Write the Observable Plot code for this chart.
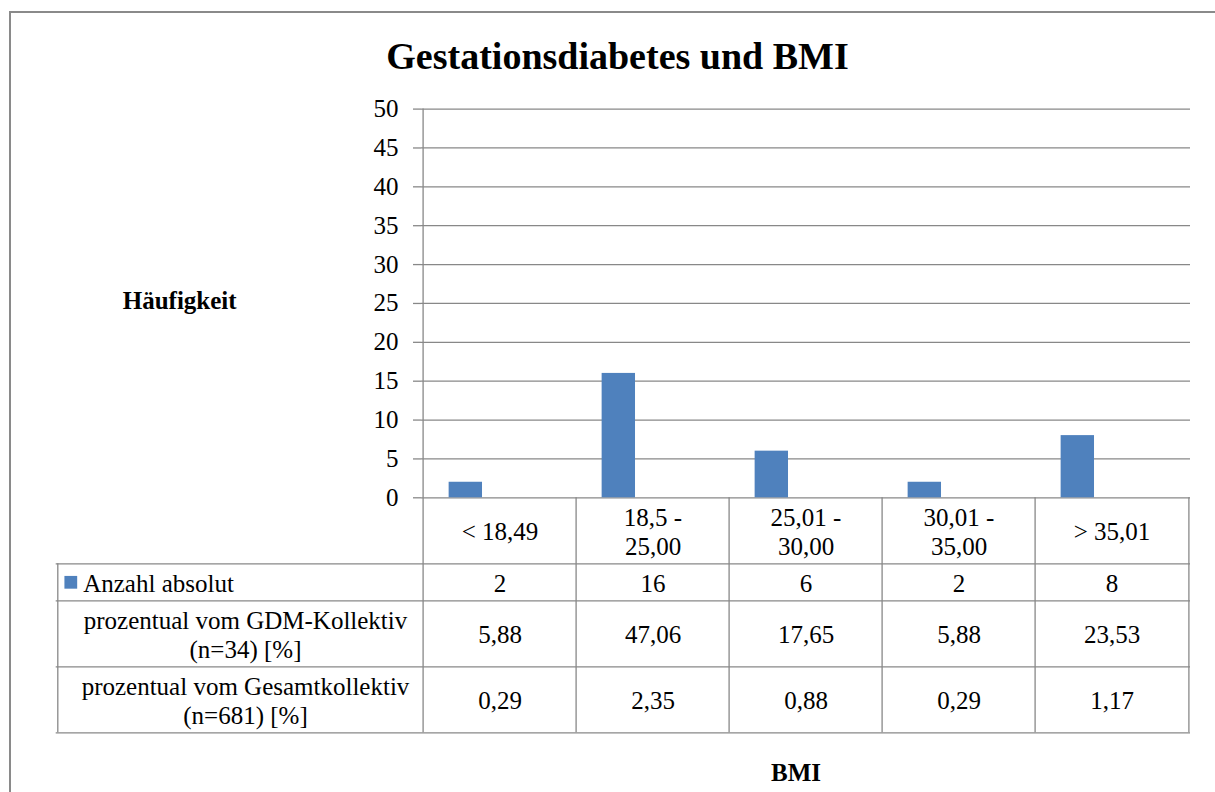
<!DOCTYPE html>
<html><head><meta charset="utf-8">
<script src="https://cdn.jsdelivr.net/npm/d3@7"></script>
<script src="https://cdn.jsdelivr.net/npm/@observablehq/plot@0.6"></script>
<style>
html,body{margin:0;padding:0;background:#fff;overflow:hidden;}
#wrap{position:relative;width:1215px;height:792px;overflow:hidden;}
#border{position:absolute;left:9px;top:11px;width:1300px;height:900px;border:2px solid #8a8a8a;box-sizing:border-box;pointer-events:none;}
#chart svg, #chart svg text, #chart svg tspan { font-family: "Liberation Serif", "Times New Roman", serif !important; font-variant: normal !important; }
</style></head><body>
<div id="wrap"><div id="chart"></div><div id="border"></div></div>
<script>
const title = "Gestationsdiabetes und BMI";
const yLabel = "Häufigkeit";
const xLabel = "BMI";
const categories = ["< 18,49", "18,5 -\n25,00", "25,01 -\n30,00", "30,01 -\n35,00", "> 35,01"];
const seriesNames = ["Anzahl absolut", "prozentual vom GDM-Kollektiv\n(n=34) [%]", "prozentual vom Gesamtkollektiv\n(n=681) [%]"];
const anzahlAbsolut = [2, 16, 6, 2, 8];
const prozentGDM = [5.88, 47.06, 17.65, 5.88, 23.53];
const prozentGesamt = [0.29, 2.35, 0.88, 0.29, 1.17];
const yTicks = [0, 5, 10, 15, 20, 25, 30, 35, 40, 45, 50];

// layout (pixels)
const W = 1215, H = 792;
const plotLeft = 421, plotRight = 1190, plotTop = 108.6, plotZero = 497.3;
const tableLeft = 55.7;
const FONT = "Liberation Serif";
const GRID = "#888888";
const BLUE = "#4F81BD";

const yScale = Plot.scale({y: {domain: [0, 50], range: [plotZero, plotTop]}});
const py = px => yScale.invert(px);
const bw = (plotRight - plotLeft) / categories.length;

// Excel clustered columns: 3 series, gap width 150%, only first series visible
const slot = 1 / (3 + 1.5);
const insetL = bw * 0.75 * slot;
const insetR = bw - insetL - bw * slot;

const fmt = v => v.toFixed(2).replace(".", ",");
const nLines = s => s.split("\n").length;
const rowH = n => 8 + 29 * n;

// row boundaries
const headerLines = d3.max(categories, nLines);
const bounds = [plotZero, plotZero + rowH(headerLines)];
seriesNames.forEach(s => bounds.push(bounds[bounds.length - 1] + rowH(nLines(s))));
const rowCenter = i => (bounds[i] + bounds[i + 1]) / 2;
const tableBottom = bounds[bounds.length - 1];

const bars = categories.map((c, i) => ({cat: c, value: anzahlAbsolut[i]}));
const rowValues = [anzahlAbsolut.map(String), prozentGDM.map(fmt), prozentGesamt.map(fmt)];
const cells = [];
categories.forEach((c, i) => cells.push({cat: c, text: c, row: 0}));
rowValues.forEach((vals, r) => vals.forEach((v, i) => cells.push({cat: categories[i], text: v, row: r + 1})));

const textOpts = {fontFamily: FONT, fontSize: 25, fill: "black", lineHeight: 1.16};

const chart = Plot.plot({
  width: W, height: H,
  marginLeft: plotLeft, marginRight: W - plotRight, marginTop: plotTop, marginBottom: H - plotZero,
  style: {fontFamily: FONT, fontSize: "25px", background: "transparent", overflow: "visible"},
  x: {type: "band", domain: categories, padding: 0, axis: null},
  y: {domain: [0, 50], axis: null},
  marks: [
    Plot.ruleY(yTicks, {stroke: GRID, strokeWidth: 1.3}),
    Plot.axisY(yTicks, {tickSize: 8, tickPadding: 15, stroke: GRID, strokeWidth: 1.3, fill: "black", fontSize: 25, fontFamily: FONT, label: null}),
    Plot.barY(bars, {x: "cat", y: "value", fill: BLUE, insetLeft: insetL, insetRight: insetR}),
    // y axis line continuing as table line
    Plot.ruleX([categories[0]], {x: d => d, dx: -bw / 2, y1: 50, y2: py(tableBottom), stroke: GRID, strokeWidth: 1.3}),
    // table column lines
    Plot.ruleX(categories.slice(1), {x: d => d, dx: -bw / 2, y1: 0, y2: py(tableBottom), stroke: GRID, strokeWidth: 1.3}),
    Plot.ruleX([categories[categories.length - 1]], {x: d => d, dx: bw / 2, y1: 0, y2: py(tableBottom), stroke: GRID, strokeWidth: 1.3}),
    Plot.ruleX([categories[0]], {x: d => d, dx: tableLeft - (plotLeft + bw / 2), y1: py(bounds[1]), y2: py(tableBottom), stroke: GRID, strokeWidth: 1.3}),
    // table row lines
    Plot.ruleY(bounds.slice(1), {y: d => py(d), insetLeft: tableLeft - plotLeft, stroke: GRID, strokeWidth: 1.3}),
    // cell texts
    Plot.text(cells, {x: "cat", y: d => py(rowCenter(d.row)), text: "text", lineAnchor: "middle", ...textOpts}),
    // row labels
    Plot.dot([seriesNames[0]], {y: () => py(rowCenter(1)), frameAnchor: "left", dx: 70.3 - plotLeft, symbol: "square", r: 7.2, fill: BLUE, stroke: "none"}),
    Plot.text([seriesNames[0]], {y: () => py(rowCenter(1)), text: d => d, frameAnchor: "left", dx: 82.7 - plotLeft, textAnchor: "start", lineAnchor: "middle", ...textOpts}),
    Plot.text(seriesNames.slice(1), {y: (d, i) => py(rowCenter(i + 2)), text: d => d, frameAnchor: "left", dx: 245 - plotLeft, textAnchor: "middle", lineAnchor: "middle", ...textOpts}),
    // titles
    Plot.text([title], {y: () => py(68), text: d => d, frameAnchor: "left", dx: 617 - plotLeft, textAnchor: "middle", lineAnchor: "bottom", fontFamily: FONT, fontSize: 38, fontWeight: "bold", fill: "black"}),
    Plot.text([yLabel], {y: () => py(308), text: d => d, frameAnchor: "left", dx: 179.2 - plotLeft, textAnchor: "middle", lineAnchor: "bottom", fontFamily: FONT, fontSize: 25, fontWeight: "bold", fill: "black"}),
    Plot.text([xLabel], {y: () => py(780), text: d => d, frameAnchor: "left", dx: 795.5 - plotLeft, textAnchor: "middle", lineAnchor: "bottom", fontFamily: FONT, fontSize: 25, fontWeight: "bold", fill: "black"})
  ]
});
document.getElementById("chart").appendChild(chart);
</script>
</body></html>
